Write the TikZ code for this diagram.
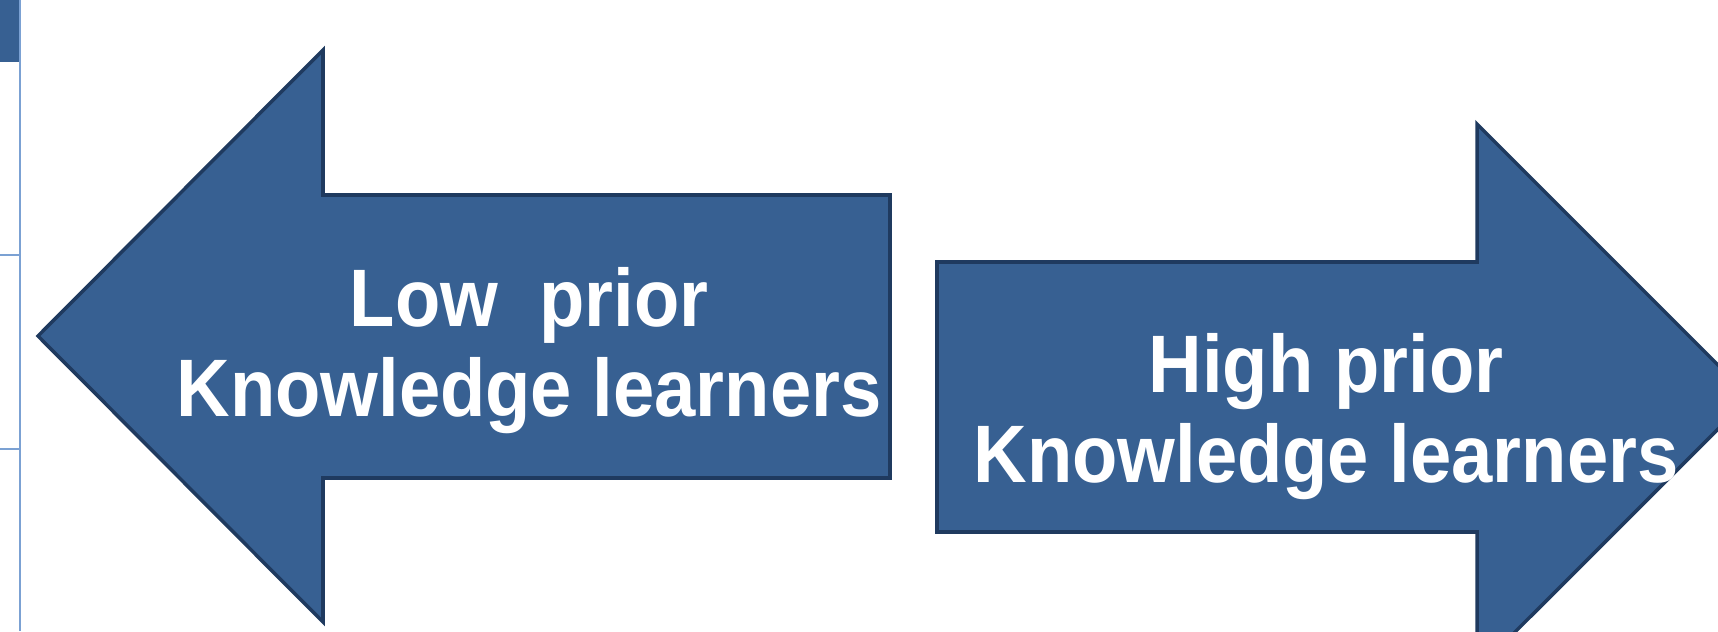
\documentclass[tikz,border=0pt]{standalone}
\usepackage{fontspec}
\setmainfont{Liberation Sans}
\definecolor{arrowblue}{HTML}{376092}
\definecolor{arrowedge}{HTML}{1F3A5F}
\definecolor{gridblue}{HTML}{7BA1D3}
\tikzset{
  bigarrow/.style={fill=arrowblue,draw=arrowedge,line width=1pt,line join=miter},
  label/.style={text=white,align=center,xscale=0.91,transform shape,
    font=\fontsize{23.2}{25.6}\selectfont\bfseries}
}
\begin{document}
\begin{tikzpicture}[x=0.1mm,y=0.1mm]
  \clip (0,0) rectangle (1718,631);

  % table edge on the left
  \fill[arrowblue] (0,569) rectangle (20,631);
  \draw[gridblue,line width=0.8pt] (20,0) -- (20,631);
  \draw[gridblue,line width=0.6pt] (0,376) -- (20,376);
  \draw[gridblue,line width=0.6pt] (0,182) -- (20,182);

  % left arrow
  \draw[bigarrow] (38,295) -- (323,581) -- (323,436) -- (890,436)
    -- (890,153) -- (323,153) -- (323,9) -- cycle;
  \node[label] (Low) at (529,280) {Low\ \ prior\\Knowledge learners};

  % right arrow
  \draw[bigarrow] (1750,234) -- (1477,507) -- (1477,369) -- (937,369)
    -- (937,99) -- (1477,99) -- (1477,-39) -- cycle;
  \node[label] (High) at (1326,214) {High prior\\Knowledge learners};

\end{tikzpicture}
\end{document}
